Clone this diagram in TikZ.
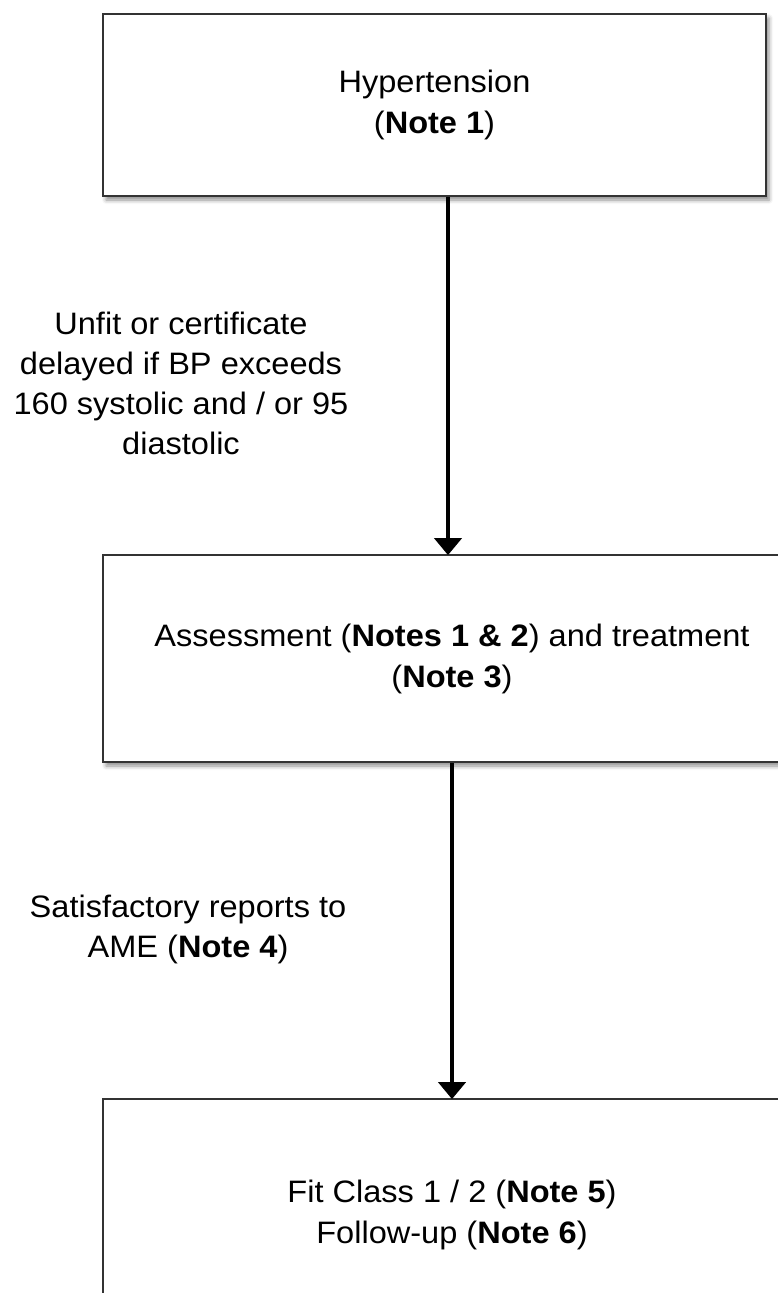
\documentclass[tikz,border=0pt]{standalone}
\usepackage{fontspec}
\setmainfont{Liberation Sans}[FakeStretch=1.05]
\usetikzlibrary{arrows.meta,shadows.blur}
\tikzset{
  box/.style={draw=black!80, line width=1.8pt, fill=white, align=center,
    font=\fontsize{31}{41}\selectfont, inner sep=0pt,
    blur shadow={shadow xshift=3pt, shadow yshift=-4pt, shadow blur radius=4pt, shadow opacity=45}},
  lbl/.style={align=center, font=\fontsize{31}{40}\selectfont, inner sep=0pt},
  arr/.style={line width=4.5pt, -{Triangle[width=27pt,length=17pt]}, shorten >=-1pt}
}
\begin{document}
\begin{tikzpicture}[x=1pt,y=1pt]
\useasboundingbox (0,0) rectangle (777,-1293);
\node[box, minimum width=663pt, minimum height=182pt] (top) at (434.5,-105)
  {Hypertension\\(\textbf{Note 1})};
\node[box, minimum width=698pt, minimum height=207pt] (mid) at (452,-658.5)
  {Assessment (\textbf{Notes 1 \& 2}) and treatment\\(\textbf{Note 3})};
\node[box, minimum width=698pt, minimum height=232pt] (bot) at (452,-1215)
  {Fit Class 1 / 2 (\textbf{Note 5})\\Follow-up (\textbf{Note 6})};
\draw[arr] ([xshift=-4pt]mid.north |- top.south) -- ([xshift=-4pt]mid.north);
\draw[arr] (mid.south) -- (bot.north);
\node[lbl] (l1) at (181,-383) {Unfit or certificate\\delayed if BP exceeds\\160 systolic and / or 95\\diastolic};
\node[lbl] (l2) at (188,-929) {Satisfactory reports to\\AME (\textbf{Note 4})};
\end{tikzpicture}
\end{document}
